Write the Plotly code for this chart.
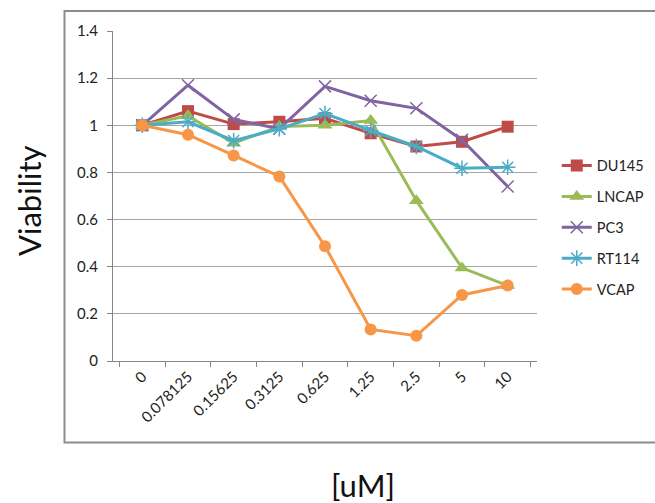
import plotly.graph_objects as go

# Concentrations tested (uM), shown as category labels
concentrations = ["0", "0.078125", "0.15625", "0.3125", "0.625", "1.25", "2.5", "5", "10"]

# Relative viability per cell line
du145 = [1.00, 1.06, 1.005, 1.015, 1.03, 0.966, 0.91, 0.93, 0.994]
lncap = [1.00, 1.04, 0.924, 0.995, 1.00, 1.02, 0.68, 0.395, 0.32]
pc3 = [1.00, 1.17, 1.025, 0.985, 1.165, 1.104, 1.072, 0.938, 0.74]
rt114 = [1.00, 1.015, 0.935, 0.985, 1.05, 0.978, 0.91, 0.818, 0.822]
vcap = [1.00, 0.96, 0.872, 0.783, 0.487, 0.134, 0.107, 0.28, 0.32]

series = [
    ("DU145", du145, "#BE4B48", dict(symbol="square", size=12)),
    ("LNCAP", lncap, "#9BBB59", dict(symbol="triangle-up", size=13)),
    ("PC3", pc3, "#8064A2", dict(symbol="x-thin-open", size=12, line=dict(width=1.5, color="#8064A2"))),
    ("RT114", rt114, "#4BACC6", dict(symbol="asterisk-open", size=13, line=dict(width=1.5, color="#4BACC6"))),
    ("VCAP", vcap, "#F79646", dict(symbol="circle", size=12)),
]

FONT = "Lato, 'Open Sans', sans-serif"

fig = go.Figure()
for name, vals, color, marker in series:
    fig.add_trace(go.Scatter(
        x=concentrations, y=vals, name=name, mode="lines+markers",
        line=dict(color=color, width=3),
        marker=dict(color=color, **marker),
        legendgroup=name,
    ))

fig.update_layout(
    width=655, height=503,
    margin=dict(l=113, r=118, t=31, b=142),
    paper_bgcolor="white", plot_bgcolor="white",
    font=dict(family=FONT, color="#222222"),
    showlegend=True,
    legend=dict(
        xref="container", x=0.850, y=0.404, xanchor="left", yanchor="middle",
        font=dict(size=14.5, color="#222222"),
        traceorder="grouped", tracegroupgap=9,
        bgcolor="rgba(0,0,0,0)",
    ),
    xaxis=dict(
        type="category", tickangle=-45,
        showline=True, linecolor="#868686", linewidth=1,
        ticks="outside", ticklen=5, tickcolor="#868686", tickson="boundaries",
        showgrid=False, tickfont=dict(size=15),
    ),
    yaxis=dict(
        range=[0, 1.4], dtick=0.2,
        showline=True, linecolor="#868686", linewidth=1,
        ticks="outside", ticklen=5, tickcolor="#868686",
        showgrid=True, gridcolor="#A6A6A6", gridwidth=1,
        zeroline=False, tickfont=dict(size=15), ticklabelstandoff=6,
    ),
    shapes=[dict(
        type="rect", xref="paper", yref="paper",
        x0=-0.1144, x1=1.30, y0=-0.247, y1=1.0606,
        line=dict(color="#8C8C8C", width=2), fillcolor="rgba(0,0,0,0)", layer="below",
    )],
    annotations=[
        dict(text="Viability", xref="paper", yref="paper",
             x=(29 - 113) / 424, y=(361 - 201) / 330, textangle=-90,
             showarrow=False, xanchor="center", yanchor="middle",
             font=dict(size=31, family=FONT, color="#111111")),
        dict(text="[uM]", xref="paper", yref="paper",
             x=(363 - 113) / 424, y=(361 - 485) / 330,
             showarrow=False, xanchor="center", yanchor="middle",
             font=dict(size=31, family=FONT, color="#111111")),
    ],
)

fig.write_html("out.html")
